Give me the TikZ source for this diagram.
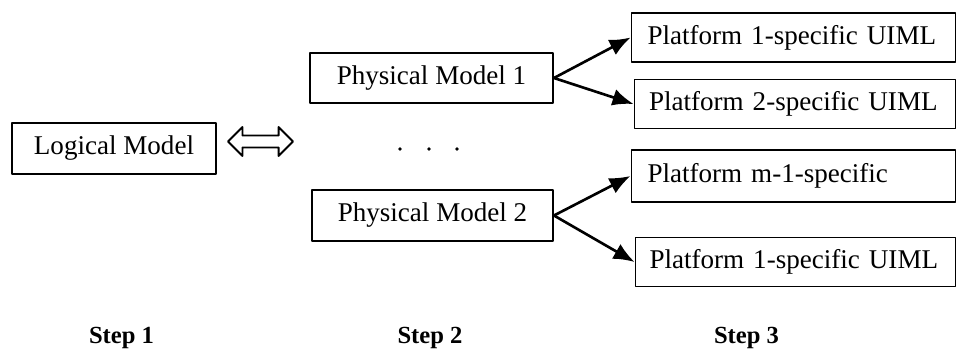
\documentclass[tikz,border=0pt]{standalone}
\usepackage{fontspec}
\setmainfont{Liberation Serif}
\usepackage{tikz}
\usetikzlibrary{arrows.meta, shapes.arrows, positioning}

\begin{document}
\begin{tikzpicture}[
  line cap=round,
  line join=round,
  box/.style={draw, line width=1.1pt, inner sep=0pt,
    font=\fontsize{15.4}{18}\selectfont},
  platbox/.style={box, minimum height=0.98cm,
    text width=5.84cm, align=left, inner xsep=0.32cm},
  steplabel/.style={anchor=base, font=\fontsize{14}{16}\selectfont\bfseries},
  link/.style={-{Latex[length=0.42cm, width=0.34cm]}, line width=1.5pt}
]
  \useasboundingbox (0,0) rectangle (19.16,6.98);

  % Step 1
  \node[box, minimum width=4.08cm, minimum height=1.02cm]
    (logical) at (2.28,4.01) {Logical Model};
  \node[draw, line width=1.1pt, shape=double arrow,
    inner xsep=0pt, inner ysep=0.1cm,
    minimum height=1.3cm, minimum width=0pt,
    double arrow head extend=0.17cm]
    (swap) at (5.21,4.15) {};

  % Step 2
  \node[box, minimum width=4.86cm, minimum height=1.0cm]
    (phys1) at (8.63,5.42) {Physical Model 1};
  \node[box, minimum width=4.82cm, minimum height=1.02cm]
    (phys2) at (8.65,2.67) {Physical Model 2};
  \foreach \x in {8.0,8.58,9.14} {
    \fill (\x,4.0) circle (0.038);
  }

  % Step 3
  \node[platbox] (plat1) at (15.87,6.23) {Platform 1-specific UIML};
  \node[platbox, inner xsep=0.29cm]
    (plat2) at (15.9,4.9) {Platform 2-specific UIML};
  \node[platbox, minimum height=1.04cm]
    (platm) at (15.87,3.46) {Platform m-1-specific};
  \node[platbox, inner xsep=0.28cm]
    (platn) at (15.91,1.74) {Platform 1-specific UIML};

  % Connectors
  \draw[link] (phys1.east) -- (plat1.west);
  \draw[link] (phys1.east) -- (plat2.west);
  \draw[link] (phys2.east) -- (platm.west);
  \draw[link] (phys2.east) -- (platn.west);

  % Step labels
  \node[steplabel] (step1) at (2.43,0.12) {Step 1};
  \node[steplabel] (step2) at (8.6,0.12) {Step 2};
  \node[steplabel] (step3) at (14.93,0.12) {Step 3};
\end{tikzpicture}
\end{document}
